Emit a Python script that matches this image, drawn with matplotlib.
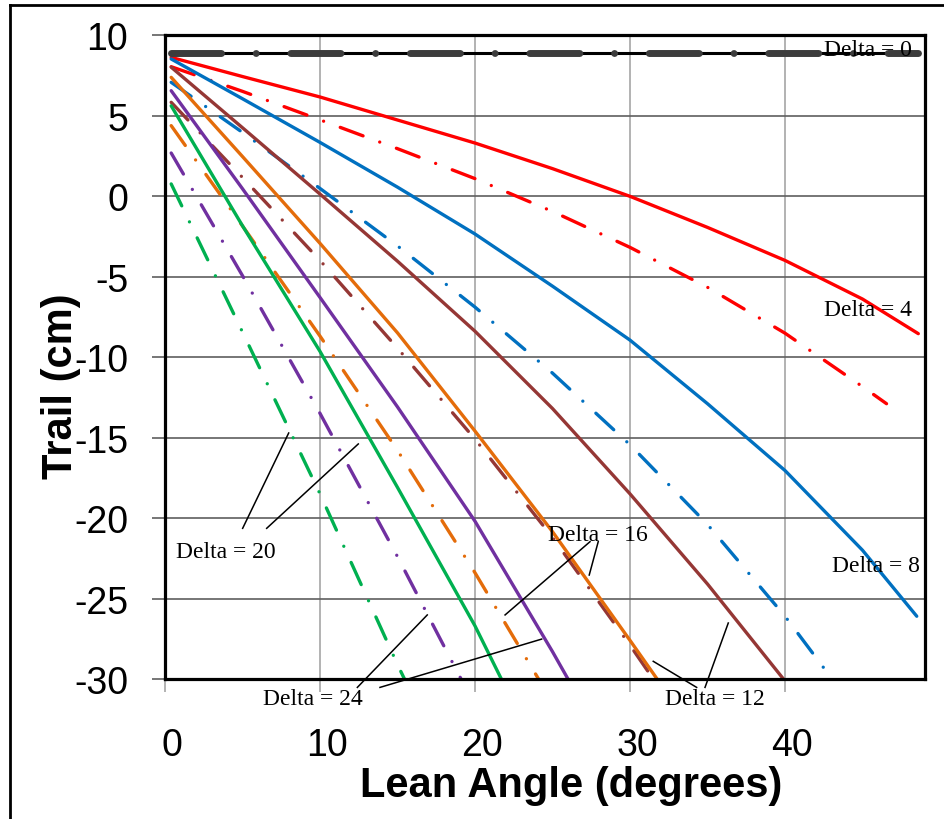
import matplotlib
matplotlib.use('Agg')
import matplotlib.pyplot as plt
from matplotlib.lines import Line2D
from matplotlib.transforms import ScaledTranslation

plt.rcParams['lines.scale_dashes'] = False   # dash lengths in points
plt.rcParams['axes.unicode_minus'] = False   # plain hyphen on tick labels

# ---- data (lean angle in degrees, trail in cm) ----
# Delta = 0
d0_x = [0.4, 48.6]
d0_y = [8.86, 8.86]
# Delta = 4 (red)
d4_x = [0.4, 5, 10, 15, 20, 25, 30, 35, 40, 45, 48.6]
d4_solid = [8.61, 7.42, 6.15, 4.72, 3.29, 1.7, -0.02, -1.95, -4.0, -6.4, -8.55]
d4_dd_x = [0.4, 5, 10, 15, 20, 25, 30, 35, 40, 45, 46.55]
d4_dd = [8.03, 6.5, 4.73, 2.94, 1.08, -0.96, -3.19, -5.67, -8.52, -11.84, -12.9]
# Delta = 8 (blue)
d8_x = [0.4, 5, 10, 15, 20, 25, 30, 35, 40, 45, 48.5]
d8_solid = [8.51, 6.04, 3.33, 0.55, -2.36, -5.6, -8.95, -12.9, -17.05, -22.0, -26.1]
d8_dd_x = [0.4, 5, 10, 15, 20, 25, 30, 35, 40, 42.65]
d8_dd = [7.06, 3.95, 0.47, -3.1, -6.9, -11.0, -15.45, -20.4, -26.1, -29.5]
# Delta = 12 (brown)
d12_x = [0.4, 5, 10, 15, 20, 25, 30, 35, 39.9]
d12_solid = [8.0, 4.24, 0.12, -4.05, -8.4, -13.2, -18.5, -24.1, -30.0]
d12_dd_x = [0.4, 5, 10, 15, 20, 25, 30, 31.5]
d12_dd = [5.82, 1.15, -4.0, -9.45, -15.1, -21.2, -27.9, -30.0]
# Delta = 16 (orange)
d16_x = [0.4, 5, 10, 15, 20, 25, 30, 31.75]
d16_solid = [7.37, 2.45, -2.94, -8.5, -14.6, -20.85, -27.6, -30.0]
d16_dd_x = [0.4, 5, 10, 15, 20, 24.1]
d16_dd = [4.37, -1.86, -8.7, -15.8, -23.4, -30.0]
# purple
p_x = [0.4, 5, 10, 15, 20, 25, 26.0]
p_solid = [6.54, 0.45, -6.3, -13.1, -20.2, -28.3, -30.0]
p_dd_x = [0.4, 5, 10, 15, 19.1]
p_dd = [2.67, -4.95, -13.5, -22.4, -30.0]
# green
g_x = [0.4, 5, 10, 15, 20, 21.7]
g_solid = [5.6, -1.85, -9.65, -18.1, -26.7, -30.0]
g_dd_x = [0.4, 5, 10, 15, 15.45]
g_dd = [0.75, -8.45, -18.5, -29.1, -30.0]

xticks = [0, 10, 20, 30, 40]
yticks = [-30, -25, -20, -15, -10, -5, 0, 5, 10]

red = '#ff0000'
blue = '#0070c0'
brown = '#953735'
orange = '#e46c0a'
purple = '#7030a0'
green = '#00b050'

fig = plt.figure(figsize=(9.45, 8.2), dpi=100)
ax = fig.add_axes([0.1746, 0.1707, 0.8042, 0.7854])

lw = 2.4
dd = (0, (17.5, 12.8, 0.01, 12.8))

# Delta = 0 : black line with a thick grey dash-dot on top
ax.plot(d0_x, d0_y, color='black', lw=2.2, zorder=3)
ax.plot(d0_x, d0_y, color='#3c3c3c', lw=5, linestyle=(0, (36, 25, 0.01, 25)),
        dash_capstyle='round', zorder=4)

series = [
    (d4_x, d4_solid, d4_dd_x, d4_dd, red),
    (d8_x, d8_solid, d8_dd_x, d8_dd, blue),
    (d12_x, d12_solid, d12_dd_x, d12_dd, brown),
    (d16_x, d16_solid, d16_dd_x, d16_dd, orange),
    (p_x, p_solid, p_dd_x, p_dd, purple),
    (g_x, g_solid, g_dd_x, g_dd, green),
]
for xs, ys, xd, yd, c in series:
    ax.plot(xs, ys, color=c, lw=lw, solid_capstyle='round', solid_joinstyle='round', zorder=3)
    ax.plot(xd, yd, color=c, lw=lw, linestyle=dd, dash_capstyle='round', zorder=3)

ax.set_xlim(0, 49.03)
ax.set_ylim(-30, 10)
ax.set_xticks(xticks)
ax.set_yticks(yticks)

# grid: vertical lines lighter than horizontal ones
ax.xaxis.grid(True, color='#a6a6a6', lw=1.2)
ax.yaxis.grid(True, color='#5f5f5f', lw=1.2)
ax.set_axisbelow(True)
for s in ax.spines.values():
    s.set_linewidth(2.3)
    s.set_color('black')
    s.set_zorder(5)

ax.tick_params(axis='x', direction='out', length=9.4, width=1.2, color='#a6a6a6',
               labelsize=27, pad=25)
ax.tick_params(axis='y', direction='out', length=9.4, width=1.2, color='#5f5f5f',
               labelsize=27, pad=17)
for lab in ax.get_xticklabels():
    lab.set_transform(lab.get_transform() + ScaledTranslation(0.07, 0, fig.dpi_scale_trans))
for lab in ax.get_xticklabels() + ax.get_yticklabels():
    lab.set_family('Liberation Sans')

ax.set_xlabel('Lean Angle (degrees)', fontsize=30, fontweight='bold', family='Liberation Sans')
ax.set_ylabel('Trail (cm)', fontsize=30, fontweight='bold', family='Liberation Sans')
ax.xaxis.set_label_coords(0.534, -0.134)
ax.yaxis.set_label_coords(-0.111, 0.457)

# annotation texts
tkw = dict(fontsize=17, family='Liberation Serif', ha='left', va='center', clip_on=False, zorder=6)
ax.text(42.5, 9.07, 'Delta = 0', **tkw)
ax.text(42.5, -7.02, 'Delta = 4', **tkw)
ax.text(43.0, -22.98, 'Delta = 8', **tkw)
ax.text(32.26, -31.18, 'Delta = 12', **tkw)
ax.text(24.7, -21.0, 'Delta = 16', **tkw)
ax.text(0.71, -22.1, 'Delta = 20', **tkw)
ax.text(6.32, -31.24, 'Delta = 24', **tkw)

# leader lines
leaders = [
    ((5.01, 7.98), (-20.64, -14.72)),
    ((6.56, 12.47), (-20.64, -15.4)),
    ((12.41, 16.92), (-30.52, -26.02)),
    ((13.87, 24.3), (-30.52, -27.52)),
    ((27.42, 21.94), (-21.47, -26.02)),
    ((27.95, 27.37), (-21.47, -23.54)),
    ((34.3, 31.5), (-30.52, -28.9)),
    ((34.84, 36.34), (-30.52, -26.52)),
]
for lx, ly in leaders:
    ax.plot(lx, ly, color='black', lw=1.1, clip_on=False, zorder=6)

# thin frame round the picture (left and top edges show)
fig.add_artist(Line2D([10 / 945, 10 / 945], [0, 1 - 6 / 820], color='black', lw=2))
fig.add_artist(Line2D([10 / 945, 1], [1 - 6 / 820, 1 - 6 / 820], color='black', lw=2))

fig.savefig('out.png', dpi=100)
